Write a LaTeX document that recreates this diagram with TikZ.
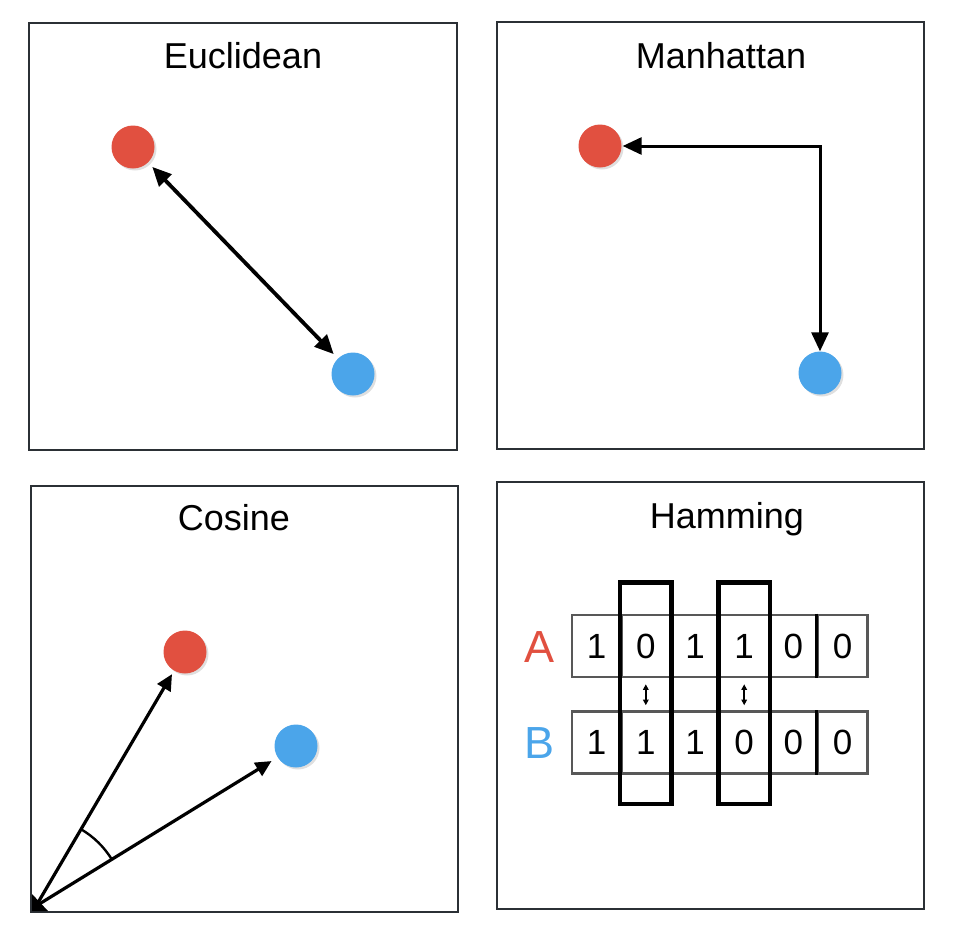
\documentclass[tikz,border=0pt]{standalone}
\usepackage{fontspec}
\setmainfont{Liberation Sans}
\usetikzlibrary{arrows.meta,shadows}
\definecolor{dotred}{RGB}{225,80,64}
\definecolor{dotblue}{RGB}{75,165,234}
\definecolor{framegray}{RGB}{43,48,53}
\definecolor{cellgray}{RGB}{88,88,88}
\begin{document}
\begin{tikzpicture}[x=1pt,y=-1pt,
		panel/.style={draw=framegray,line width=2.8pt},
		title/.style={anchor=base,font=\fontsize{36}{40}\selectfont},
		dot/.style={circle,inner sep=0pt,minimum size=43pt,drop shadow={shadow xshift=2pt,shadow yshift=-2pt,opacity=0.25}},
		dist/.style={line width=3.8pt,>={Triangle[length=19pt,width=17pt]}},
		vec/.style={line width=3.2pt,>={Triangle[length=16pt,width=15pt]}},
		cell/.style={draw=cellgray,line width=2.6pt,minimum width=49.2pt,minimum height=62pt,inner sep=0pt,font=\fontsize{35}{40}\selectfont},
		hilite/.style={draw=black,line width=4.5pt},
		flip/.style={line width=1.6pt,>={Triangle[length=5.5pt,width=5.5pt]}}]
		\useasboundingbox (0,0) rectangle (964,940);
		\draw[panel] (29,23) rectangle (457,450);
		\draw[panel] (497,22) rectangle (924,449);
		\draw[panel] (31,486) rectangle (458,912);
		\draw[panel] (497,482) rectangle (924,909);
		
		\node[title] (tEuc) at (243,68) {Euclidean};
		\node[dot,fill=dotred] (eR) at (133,147) {};
		\node[dot,fill=dotblue] (eB) at (353,374) {};
		\draw[dist,<->,shorten <=6pt,shorten >=6pt] (eR) -- (eB);
		
		\node[title] (tMan) at (721,68) {Manhattan};
		\node[dot,fill=dotred] (mR) at (600,146) {};
		\node[dot,fill=dotblue] (mB) at (820,373) {};
		\draw[dist,line width=3pt,<->,shorten <=1pt] (mR) -| (mB);
		
		\node[title] (tCos) at (234,530) {Cosine};
		\coordinate (co) at (36,906);
		\node[dot,fill=dotred] (cR) at (185,652) {};
		\node[dot,fill=dotblue] (cB) at (296,746) {};
		\draw[vec,->,shorten >=4pt] (co) -- (cR);
		\draw[vec,->,shorten >=7pt] (co) -- (cB);
		\fill ([shift={(-4,-12)}]co) -- ([shift={(12,5)}]co) -- ([shift={(-4,5)}]co) -- cycle;
		\draw[line width=2.4pt] (co) ++(-59.6:89) arc[start angle=-59.6,end angle=-31.6,radius=89];
		
		\node[title] (tHam) at (727,528) {Hamming};
		\foreach \v [count=\i] in {1,0,1,1,0,0}
			\node[cell] (a\i) at ({547.4+49.2*\i},646) {\v};
		\foreach \v [count=\i] in {1,1,1,0,0,0}
			\node[cell] (b\i) at ({547.4+49.2*\i},742.5) {\v};
		\draw[line width=2.6pt] (a6.north west) -- (a6.south west);
		\draw[line width=2.6pt] (b6.north west) -- (b6.south west);
		\node[anchor=base,text=dotred,font=\fontsize{45}{50}\selectfont] (lA) at (540,662) {A};
		\node[anchor=base,text=dotblue,font=\fontsize{45}{50}\selectfont] (lB) at (540,758) {B};
		\draw[hilite] ([yshift=31pt]a2.north west) rectangle ([yshift=-29pt]b2.south east);
		\draw[hilite] ([yshift=31pt]a4.north west) rectangle ([yshift=-29pt]b4.south east);
		\draw[flip,<->,shorten <=6pt,shorten >=5pt] (a2.south) -- (b2.north);
		\draw[flip,<->,shorten <=6pt,shorten >=5pt] (a4.south) -- (b4.north);
\end{tikzpicture}
\end{document}
